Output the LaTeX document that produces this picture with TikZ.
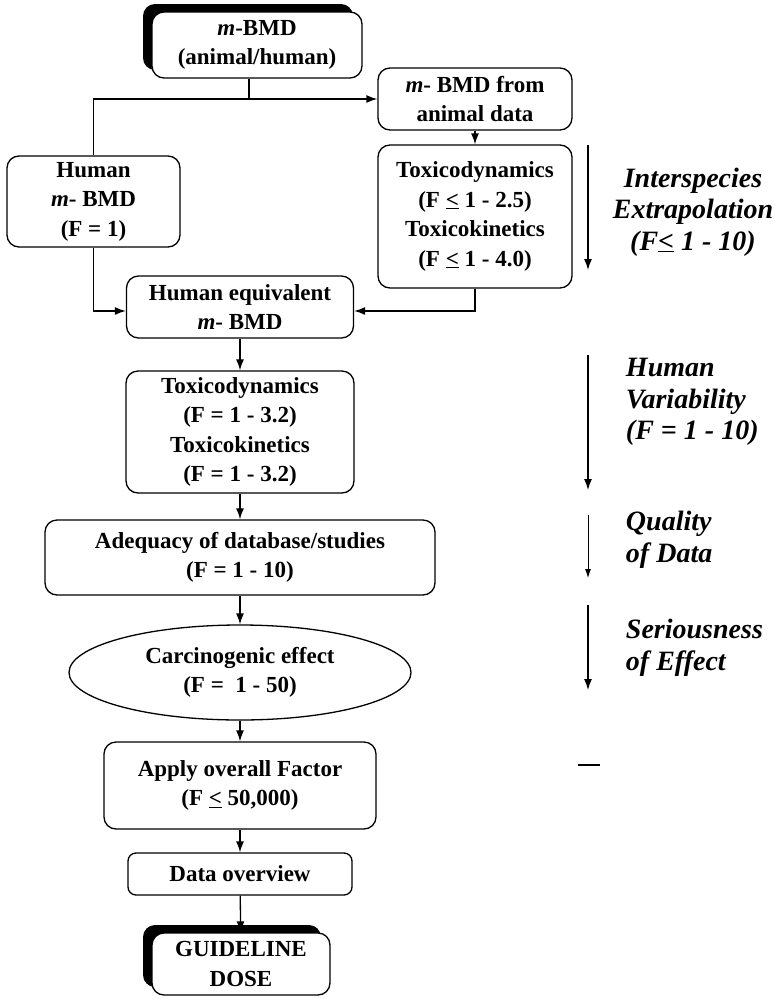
\documentclass[tikz,border=0pt]{standalone}
\usepackage{fontspec}
\setmainfont{Liberation Serif}
\usetikzlibrary{positioning, calc, arrows.meta, shapes.geometric, shadows}
\tikzset{
  stepbox/.style={draw, rounded corners=12pt, line width=1.3pt, align=center,
    inner sep=0pt, fill=white, font=\fontsize{23}{29.5}\selectfont\bfseries},
  doseshadow/.style={drop shadow={shadow xshift=-9pt, shadow yshift=8pt,
    fill=black, opacity=1}},
  scalelabel/.style={align=left, font=\fontsize{28}{31.5}\selectfont\bfseries\itshape},
}
\newcommand{\Lt}{\underline{<}}

\begin{document}
\begin{tikzpicture}[>={Latex[length=11pt,width=8pt]}, x=1pt, y=-1pt, line width=1.3pt]

    \useasboundingbox (0,0) rectangle (775,999);

    % flow boxes
    \draw(257,45) node[stepbox, doseshadow, minimum width=210, minimum height=66] (top)
    {\textit{m}-BMD\\(animal/human)};
    \draw(475,99) node[stepbox, minimum width=194, minimum height=62] (animal)
    {\textit{m}- BMD from\\animal data};
    \draw(475,216.5) node[stepbox, minimum width=194, minimum height=143] (toxA)
    {Toxicodynamics\\(F \Lt{} 1 - 2.5)\\Toxicokinetics\\(F \Lt{} 1 - 4.0)};
    \draw(93.5,201.5) node[stepbox, minimum width=173, minimum height=91] (human)
    {Human\\\textit{m}- BMD\\(F = 1)};
    \draw(240,307) node[stepbox, minimum width=227, minimum height=62] (equiv)
    {Human equivalent\\\textit{m}- BMD};
    \draw(240,432) node[stepbox, minimum width=228, minimum height=122] (toxH)
    {Toxicodynamics\\(F = 1 - 3.2)\\Toxicokinetics\\(F = 1 - 3.2)};
    \draw(240,557.5) node[stepbox, minimum width=390, minimum height=75] (adeq)
    {Adequacy of database/studies\\(F = 1 - 10)};
    \draw(240,672.5) node[stepbox, ellipse, sharp corners, minimum width=342, minimum height=95] (carc)
    {Carcinogenic effect\\(F = \ 1 - 50)};
    \draw(240,785.5) node[stepbox, minimum width=272, minimum height=87] (apply)
    {Apply overall Factor\\(F \Lt{} 50,000)};
    \draw(240,874) node[stepbox, rounded corners=8pt, minimum width=224, minimum height=42] (overview)
    {Data overview};
    \draw(241,964) node[stepbox, doseshadow, minimum width=178, minimum height=62] (guide)
    {GUIDELINE\\DOSE};

    % connectors
    \coordinate (split) at (249,99);
    \draw (split |- top.south) -- (split);
    \draw[->] (human.north) |- (animal.west);
    \draw[->] (animal) -- (toxA);
    \draw[->] (human.south) |- ($(equiv.west)+(0,4)$);
    \draw[->] (toxA.south) |- ($(equiv.east)+(0,4)$);
    \draw[->] (equiv) -- (toxH);
    \draw[->] (toxH) -- (adeq);
    \draw[->] (adeq) -- (carc);
    \draw[->] (carc) -- (apply);
    \draw[->] (apply) -- (overview);
    \draw[->] (overview) -- (guide);

    % factor scale on the right
    \coordinate (s1) at (588,145);
    \coordinate (e1) at (588,270);
    \coordinate (s2) at (588,355);
    \coordinate (e2) at (588,490);
    \coordinate (s3) at (588,515);
    \coordinate (e3) at (588,578);
    \coordinate (s4) at (588,605);
    \coordinate (e4) at (588,690);
    \coordinate (d1) at (578,765);
    \coordinate (d2) at (600,765);
    \draw[->] (s1) -- (e1);
    \draw[->] (s2) -- (e2);
    \draw[->, line width=0.9pt, >={Latex[length=9pt,width=6pt]}] (s3) -- (e3);
    \draw[->] (s4) -- (e4);
    \draw (d1) -- (d2);

    \draw(693,212) node[scalelabel, align=center] (interspecies)
    {Interspecies\\Extrapolation\\(F\Lt{} 1 - 10)};
    \draw(622,402) node[scalelabel, anchor=west] (variability)
    {Human\\Variability\\(F = 1 - 10)};
    \draw(622,540) node[scalelabel, anchor=west] (quality) {Quality\\of Data};
    \draw(622,648) node[scalelabel, anchor=west] (serious) {Seriousness\\of Effect};

\end{tikzpicture}
\end{document}
